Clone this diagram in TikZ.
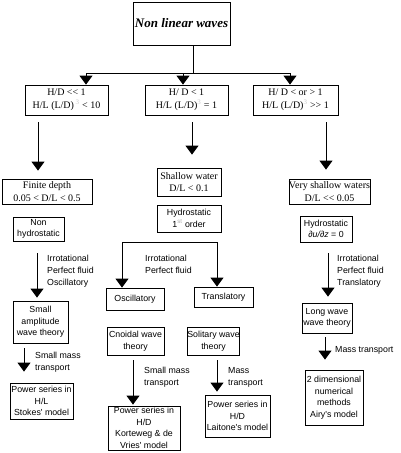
\documentclass[tikz,border=0pt]{standalone}
\usepackage{fontspec}
\setmainfont{Liberation Serif}
\newfontfamily\arialf{Liberation Sans}
\usetikzlibrary{arrows.meta,calc}
\newcommand\llt{<\kern0pt<}
\newcommand\ggt{>\kern0pt>}
\begin{document}
\begin{tikzpicture}[x=1pt,y=-1pt,
  every node/.style={inner sep=0pt},
  sbox/.style={draw,line width=0.8pt,align=center,font=\fontsize{10}{12.5}\selectfont},
  abox/.style={draw,line width=0.8pt,align=center,font=\arialf\fontsize{8.8}{11.5}\selectfont},
  lab/.style={align=left,anchor=north west,font=\arialf\fontsize{8.8}{11.8}\selectfont},
  conn/.style={line width=0.8pt},
  arr/.style={line width=0.8pt,-{Triangle[width=13pt,length=9pt]}}]
\useasboundingbox (0,0) rectangle (400,453);
\fill[white] (0,0) rectangle (400,453);

% boxes
\node[sbox,minimum width=97pt,minimum height=43pt,font=\fontsize{13}{15}\selectfont\bfseries\itshape] (top) at (181.5,23.5) {Non linear waves};
\node[sbox,minimum width=83pt,minimum height=30pt] (b1) at (66.5,100) {H/D \llt{} 1\\H/L (L/D)\,\textsuperscript{\textcolor{black!20}{3}} < 10};
\node[sbox,minimum width=83pt,minimum height=30pt] (b2) at (186.5,100) {H/ D < 1\\H/L (L/D)\textsuperscript{\textcolor{black!20}{3}} = 1};
\node[sbox,minimum width=85pt,minimum height=30pt] (b3) at (295.5,100) {H/ D < or > 1\\H/L (L/D)\textsuperscript{\textcolor{black!20}{3}} \ggt{} 1};

\node[sbox,minimum width=90pt,minimum height=25pt] (fd) at (47,191.5) {Finite depth\\0.05 < D/L < 0.5};
\node[abox,minimum width=51pt,minimum height=24pt] (nh) at (38.5,229) {Non\\hydrostatic};
\node[abox,minimum width=55pt,minimum height=42pt] (sa) at (40.5,322) {Small\\amplitude\\wave theory};
\node[abox,minimum width=63pt,minimum height=36pt] (ps1) at (41.5,401) {Power series in\\H/L\\Stokes' model};

\node[sbox,minimum width=64pt,minimum height=28pt] (sw) at (189,182) {Shallow water\\D/L < 0.1};
\node[abox,minimum width=64pt,minimum height=27pt] (hy1) at (189,218.5) {Hydrostatic\\1\textsuperscript{\textcolor{black!30}{st}} order};
\node[abox,minimum width=58pt,minimum height=22pt] (osc) at (135,299) {Oscillatory};
\node[abox,minimum width=59pt,minimum height=20pt] (tra) at (223.5,297) {Translatory};
\node[abox,minimum width=57pt,minimum height=28pt] (cn) at (135.5,341) {Cnoidal wave\\theory};
\node[abox,minimum width=51pt,minimum height=28pt] (sol) at (213.5,341) {Solitary wave\\theory};
\node[abox,minimum width=72pt,minimum height=44pt] (ps2) at (144,428) {Power series in\\H/D\\Korteweg \& de\\Vries' model};
\node[abox,minimum width=65pt,minimum height=42pt] (ps3) at (237.5,416) {Power series in\\H/D\\Laitone's model};

\node[sbox,minimum width=81pt,minimum height=25pt] (vs) at (329.5,191.5) {Very shallow waters\\D/L \llt{} 0.05};
\node[abox,minimum width=52pt,minimum height=26pt] (hy2) at (326,229) {Hydrostatic\\\textit{∂u/∂z} = 0};
\node[abox,minimum width=50pt,minimum height=30pt] (lw) at (327,318) {Long wave\\wave theory};
\node[abox,minimum width=58pt,minimum height=55pt] (td) at (334,397.5) {2 dimensional\\numerical\\methods\\Airy's model};

% labels
\node[lab] (l1) at (47,255) {Irrotational\\Perfect fluid\\Oscillatory};
\node[lab] (l2) at (145,255) {Irrotational\\Perfect fluid};
\node[lab] (l3) at (337,255) {Irrotational\\Perfect fluid\\Translatory};
\node[lab] (l4) at (35,352) {Small mass\\transport};
\node[lab] (l5) at (144,367) {Small mass\\transport};
\node[lab] (l6) at (228,367) {Mass\\transport};
\node[lab] (l7) at (335,346) {Mass transport};

% top bus
\coordinate (stem) at (193,73);
\coordinate (busL) at (86,73);
\coordinate (busM) at (183,73);
\coordinate (busR) at (290,73);
\draw[conn] (stem |- top.south) -- (stem);
\draw[conn] (busL) -- (busR);
\draw[arr] (busL) -- (busL |- b1.north);
\draw[arr] (busM) -- (busM |- b2.north);
\draw[arr] (busR) -- (busR |- b3.north);

% left column
\coordinate (xa) at (38,0);
\coordinate (xb) at (37,0);
\coordinate (xc) at (24,0);
\draw[arr,shorten <=7pt,shorten >=8pt] (xa |- b1.south) -- (xa |- fd.north);
\draw[arr,shorten <=12pt,shorten >=3pt] (xb |- nh.south) -- (xb |- sa.north);
\draw[arr,shorten <=5pt,shorten >=11pt] (xc |- sa.south) -- (xc |- ps1.north);

% middle column
\coordinate (xd) at (192,0);
\draw[arr,shorten <=7pt,shorten >=13pt] (xd |- b2.south) -- (xd |- sw.north);
\coordinate (brL) at (122,242);
\coordinate (brR) at (217,242);
\draw[conn] (brL) -- (brR);
\draw[arr] (brL) -- (brL |- osc.north);
\draw[arr] (brR) -- (brR |- tra.north);
\coordinate (xe) at (133,0);
\coordinate (xf) at (217,0);
\draw[arr,shorten <=5pt,shorten >=1pt] (xe |- cn.south) -- (xe |- ps2.north);
\draw[arr,shorten <=5pt,shorten >=3pt] (xf |- sol.south) -- (xf |- ps3.north);

% right column
\coordinate (xg) at (326,0);
\coordinate (xh) at (328,0);
\coordinate (xi) at (325,0);
\draw[arr,shorten <=7pt,shorten >=9pt] (xg |- b3.south) -- (xg |- vs.north);
\draw[arr,shorten <=11pt,shorten >=6pt] (xh |- hy2.south) -- (xh |- lw.north);
\draw[arr,shorten <=4pt,shorten >=10pt] (xi |- lw.south) -- (xi |- td.north);
\end{tikzpicture}
\end{document}
